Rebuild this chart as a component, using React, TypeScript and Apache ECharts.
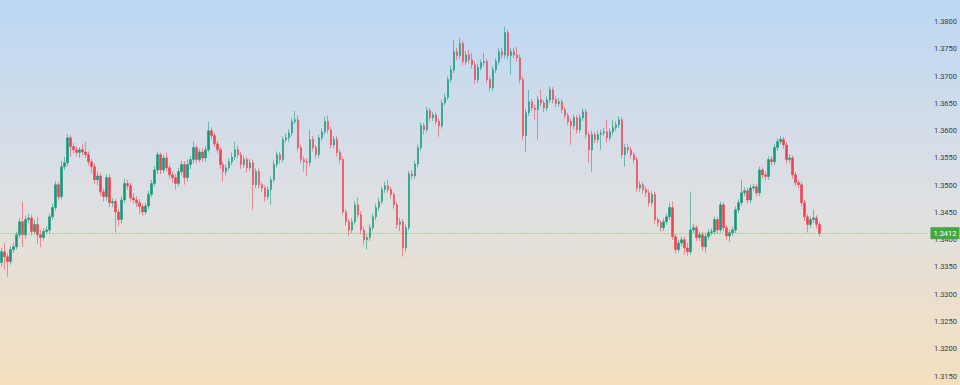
import React, { useEffect, useRef } from "react";
import * as echarts from "echarts";

const firstOpen = 1.3358;

const closes = [
  1.3378, 1.3369, 1.336, 1.3382, 1.3387, 1.3409, 1.3433, 1.3409, 1.3437, 1.344,
  1.3415, 1.3428, 1.3409, 1.3404, 1.3415, 1.3418, 1.3442, 1.3459, 1.3501, 1.3479,
  1.3534, 1.3541, 1.3587, 1.3571, 1.3565, 1.356, 1.3565, 1.3561, 1.3556, 1.3543,
  1.3534, 1.351, 1.3517, 1.3488, 1.3479, 1.3514, 1.3468, 1.347, 1.3451, 1.3437,
  1.3473, 1.3503, 1.3499, 1.3477, 1.3473, 1.3468, 1.3461, 1.3451, 1.3462, 1.3483,
  1.3503, 1.3528, 1.3556, 1.3528, 1.355, 1.3532, 1.3519, 1.3514, 1.3503, 1.3525,
  1.3538, 1.3514, 1.3538, 1.3547, 1.3569, 1.3547, 1.3561, 1.355, 1.3565, 1.36,
  1.3591, 1.3576, 1.3565, 1.3538, 1.3525, 1.3532, 1.3543, 1.3552, 1.3565, 1.3556,
  1.3538, 1.3547, 1.3532, 1.3541, 1.3501, 1.3525, 1.3501, 1.3495, 1.3479, 1.3492,
  1.351, 1.3538, 1.3556, 1.3547, 1.3584, 1.3587, 1.3596, 1.3617, 1.362, 1.3569,
  1.3547, 1.3543, 1.3541, 1.3584, 1.3569, 1.3556, 1.3587, 1.3598, 1.3617, 1.3602,
  1.3574, 1.3584, 1.356, 1.3547, 1.3451, 1.3433, 1.3418, 1.3433, 1.3464, 1.3446,
  1.3418, 1.34, 1.3404, 1.3422, 1.3442, 1.3459, 1.347, 1.3492, 1.3499, 1.3492,
  1.3483, 1.3464, 1.3428, 1.3433, 1.3385, 1.3422, 1.3521, 1.3517, 1.3539, 1.3569,
  1.3609, 1.3602, 1.3637, 1.3624, 1.3629, 1.3617, 1.3609, 1.3651, 1.3661, 1.3694,
  1.3712, 1.3745, 1.3738, 1.376, 1.3727, 1.3739, 1.373, 1.3721, 1.3694, 1.3716,
  1.3725, 1.3727, 1.3694, 1.3679, 1.3712, 1.3727, 1.3745, 1.3739, 1.378, 1.3738,
  1.3745, 1.3739, 1.3734, 1.3694, 1.3591, 1.3633, 1.3653, 1.3642, 1.3639, 1.3657,
  1.3651, 1.3642, 1.3657, 1.3675, 1.3657, 1.365, 1.3653, 1.3639, 1.3628, 1.3617,
  1.3609, 1.3624, 1.3602, 1.3624, 1.3635, 1.3593, 1.3565, 1.3593, 1.3584, 1.3593,
  1.3596, 1.3598, 1.3587, 1.3598, 1.3606, 1.3611, 1.362, 1.3556, 1.3569, 1.3565,
  1.3556, 1.3547, 1.3495, 1.3501, 1.3492, 1.3486, 1.3468, 1.3483, 1.3437, 1.3431,
  1.3422, 1.3433, 1.3442, 1.3459, 1.3406, 1.3382, 1.3394, 1.34, 1.3385, 1.3378,
  1.3418, 1.3422, 1.3404, 1.3409, 1.3387, 1.3406, 1.3413, 1.3415, 1.3437, 1.3418,
  1.3464, 1.3422, 1.3407, 1.3413, 1.3418, 1.3455, 1.3468, 1.3486, 1.349, 1.3473,
  1.3495, 1.3497, 1.3486, 1.3528, 1.3519, 1.3516, 1.3547, 1.3543, 1.3569, 1.358,
  1.3584, 1.3574, 1.3547, 1.355, 1.3519, 1.3505, 1.3501, 1.3468, 1.3442, 1.3428,
  1.3437, 1.344, 1.3428, 1.3412,
];

const highs = [
  1.3385, 1.3394, 1.3375, 1.3388, 1.3395, 1.3415, 1.344, 1.347, 1.3444, 1.3448,
  1.3446, 1.3436, 1.3442, 1.3418, 1.3421, 1.3425, 1.3448, 1.3466, 1.3508, 1.3506,
  1.3545, 1.3552, 1.3594, 1.3592, 1.3578, 1.3572, 1.357, 1.3576, 1.358, 1.3562,
  1.3548, 1.354, 1.3525, 1.3522, 1.3494, 1.352, 1.352, 1.3476, 1.3475, 1.3456,
  1.348, 1.3512, 1.351, 1.3505, 1.3485, 1.348, 1.3475, 1.3466, 1.3468, 1.349,
  1.351, 1.3535, 1.3562, 1.356, 1.3556, 1.356, 1.3538, 1.3525, 1.352, 1.3532,
  1.3545, 1.3544, 1.3547, 1.3553, 1.358, 1.3574, 1.3567, 1.3568, 1.3572, 1.3617,
  1.3606, 1.3596, 1.3582, 1.357, 1.3543, 1.3538, 1.355, 1.356, 1.358, 1.3572,
  1.3561, 1.3554, 1.3552, 1.3548, 1.3546, 1.3531, 1.353, 1.3506, 1.35, 1.3498,
  1.3516, 1.3545, 1.3562, 1.3561, 1.359, 1.3595, 1.3603, 1.3624, 1.3636, 1.3628,
  1.3574, 1.3553, 1.355, 1.3602, 1.359, 1.3574, 1.3593, 1.3605, 1.3626, 1.3628,
  1.3607, 1.359, 1.359, 1.3565, 1.3552, 1.3456, 1.3438, 1.344, 1.3471, 1.3478,
  1.3452, 1.3424, 1.341, 1.3428, 1.3448, 1.3466, 1.3477, 1.3498, 1.3506, 1.351,
  1.3497, 1.3488, 1.3469, 1.344, 1.3438, 1.3428, 1.3526, 1.3528, 1.3545, 1.3575,
  1.3615, 1.3614, 1.3644, 1.3642, 1.3635, 1.3634, 1.3622, 1.3657, 1.3668, 1.37,
  1.3719, 1.3767, 1.3752, 1.377, 1.3765, 1.3746, 1.3748, 1.3743, 1.3727, 1.3722,
  1.3731, 1.3743, 1.3732, 1.3699, 1.3718, 1.3733, 1.3751, 1.3752, 1.3791, 1.3786,
  1.3751, 1.3752, 1.3754, 1.374, 1.3699, 1.364, 1.3675, 1.3658, 1.3648, 1.3664,
  1.3675, 1.3656, 1.3663, 1.3681, 1.368, 1.3663, 1.366, 1.3658, 1.3644, 1.3633,
  1.3622, 1.363, 1.3629, 1.363, 1.3641, 1.364, 1.3598, 1.36, 1.3598, 1.36,
  1.3602, 1.3605, 1.362, 1.3604, 1.362, 1.3617, 1.3627, 1.3625, 1.3575, 1.3576,
  1.3571, 1.3561, 1.3552, 1.3508, 1.3506, 1.3498, 1.3492, 1.3489, 1.3488, 1.3442,
  1.3436, 1.3439, 1.3448, 1.3468, 1.347, 1.3411, 1.34, 1.3406, 1.3405, 1.3395,
  1.3488, 1.3429, 1.3427, 1.3415, 1.3414, 1.3412, 1.3419, 1.3421, 1.3443, 1.3442,
  1.347, 1.3469, 1.3427, 1.3419, 1.3424, 1.3461, 1.3474, 1.351, 1.3496, 1.3495,
  1.3501, 1.3503, 1.3502, 1.3534, 1.3533, 1.3525, 1.3553, 1.3553, 1.3575, 1.3586,
  1.3591, 1.3589, 1.3579, 1.3557, 1.3555, 1.3524, 1.351, 1.3506, 1.3473, 1.3447,
  1.3443, 1.3455, 1.3445, 1.3433,
];

const lows = [
  1.335, 1.3345, 1.3332, 1.3354, 1.3376, 1.3382, 1.3403, 1.3387, 1.3402, 1.343,
  1.3408, 1.341, 1.3392, 1.3386, 1.3398, 1.341, 1.3412, 1.3437, 1.3453, 1.3472,
  1.3474, 1.3528, 1.3535, 1.3552, 1.3558, 1.3553, 1.355, 1.3555, 1.355, 1.3536,
  1.3522, 1.3503, 1.35, 1.348, 1.347, 1.3472, 1.346, 1.346, 1.3413, 1.3425,
  1.343, 1.3468, 1.3492, 1.347, 1.3466, 1.346, 1.3447, 1.3444, 1.3446, 1.3456,
  1.3478, 1.3498, 1.352, 1.352, 1.3522, 1.3525, 1.3512, 1.3505, 1.3492, 1.3498,
  1.3518, 1.3501, 1.3507, 1.353, 1.354, 1.354, 1.3542, 1.3544, 1.3543, 1.356,
  1.3584, 1.357, 1.3558, 1.353, 1.3506, 1.3518, 1.3527, 1.3537, 1.3546, 1.3549,
  1.353, 1.3532, 1.3523, 1.3526, 1.3455, 1.3495, 1.3494, 1.3487, 1.347, 1.3473,
  1.3464, 1.3505, 1.3532, 1.354, 1.3542, 1.3578, 1.358, 1.359, 1.3612, 1.3562,
  1.354, 1.3525, 1.3516, 1.3535, 1.3562, 1.3549, 1.355, 1.3581, 1.3592, 1.3595,
  1.3567, 1.3568, 1.3553, 1.354, 1.3446, 1.3426, 1.3407, 1.3412, 1.3428, 1.344,
  1.341, 1.3391, 1.3382, 1.3398, 1.3416, 1.3436, 1.3453, 1.3465, 1.3486, 1.3486,
  1.3476, 1.3457, 1.342, 1.3416, 1.3369, 1.3378, 1.3417, 1.351, 1.3512, 1.3533,
  1.3563, 1.3593, 1.3597, 1.3617, 1.3618, 1.3611, 1.3589, 1.3604, 1.3646, 1.3656,
  1.3688, 1.3706, 1.373, 1.3732, 1.372, 1.3721, 1.3723, 1.3714, 1.3686, 1.3688,
  1.371, 1.3719, 1.3687, 1.3672, 1.3673, 1.3706, 1.3721, 1.3732, 1.3733, 1.3731,
  1.3703, 1.3733, 1.3727, 1.3687, 1.3583, 1.3561, 1.3627, 1.3636, 1.362, 1.3584,
  1.3645, 1.3634, 1.3636, 1.3651, 1.365, 1.3643, 1.3644, 1.3632, 1.3621, 1.361,
  1.3574, 1.3603, 1.3595, 1.3596, 1.3618, 1.3586, 1.3541, 1.3525, 1.3577, 1.3578,
  1.3565, 1.359, 1.3578, 1.3581, 1.3592, 1.36, 1.3605, 1.3549, 1.3534, 1.3558,
  1.3549, 1.354, 1.3488, 1.3488, 1.3485, 1.3479, 1.3461, 1.3462, 1.343, 1.3424,
  1.3415, 1.3416, 1.3427, 1.3436, 1.34, 1.3375, 1.3377, 1.3388, 1.3373, 1.337,
  1.3372, 1.3412, 1.3397, 1.3398, 1.338, 1.3376, 1.34, 1.3408, 1.341, 1.3411,
  1.3412, 1.3415, 1.34, 1.3396, 1.3407, 1.3412, 1.3449, 1.3462, 1.348, 1.3466,
  1.3467, 1.3489, 1.3479, 1.348, 1.3512, 1.3509, 1.351, 1.3536, 1.3537, 1.3563,
  1.3575, 1.3567, 1.354, 1.3541, 1.3512, 1.3498, 1.3494, 1.3461, 1.3435, 1.3413,
  1.3422, 1.3431, 1.3421, 1.3406,
];

const lastPrice = 1.3412;
const emptySlots = 36;
const yTickMin = 1.315;
const yTickMax = 1.38;
const yTickStep = 0.005;

export default function App() {
  const ref = useRef<HTMLDivElement>(null);

  useEffect(() => {
    if (!ref.current) return;
    const chart = echarts.init(ref.current, undefined, { renderer: "svg" });

    const categories: string[] = [];
    const candles: (number[] | string)[] = [];
    for (let i = 0; i < closes.length; i++) {
      const open = i === 0 ? firstOpen : closes[i - 1];
      categories.push(String(i));
      candles.push([open, closes[i], lows[i], highs[i]]);
    }
    for (let j = 0; j < emptySlots; j++) {
      categories.push(String(closes.length + j));
      candles.push("-");
    }
    const lastCat = categories[categories.length - 1];

    chart.setOption({
      animation: false,
      backgroundColor: "transparent",
      grid: { left: 0, right: 30, top: 21.7, bottom: 9, containLabel: false },
      xAxis: {
        type: "category",
        data: categories,
        show: false,
        boundaryGap: true,
      },
      yAxis: {
        type: "value",
        position: "right",
        min: yTickMin,
        max: yTickMax,
        interval: yTickStep,
        axisLine: { show: false },
        axisTick: { show: false },
        splitLine: { show: false },
        axisLabel: {
          show: true,
          margin: 5,
          fontSize: 7.5,
          color: "#3a3e45",
          fontFamily: "Roboto, 'Liberation Sans', sans-serif",
          formatter: (v: number) => v.toFixed(4),
        },
      },
      series: [
        {
          type: "candlestick",
          data: candles,
          barWidth: 2,
          clip: false,
          itemStyle: {
            color: "#11997c",
            color0: "#f0404f",
            borderColor: "rgba(17,153,124,0.55)",
            borderColor0: "rgba(240,64,79,0.55)",
            borderWidth: 1,
          },
          markLine: {
            silent: true,
            symbol: "none",
            animation: false,
            data: [
              [
                { coord: [categories[0], lastPrice] },
                { coord: [lastCat, lastPrice] },
              ],
            ],
            lineStyle: {
              type: [1, 2],
              color: "rgba(88,190,80,0.9)",
              width: 1,
            },
            label: {
              show: true,
              position: "end",
              distance: 3,
              formatter: lastPrice.toFixed(4),
              backgroundColor: "#43a83f",
              color: "#ffffff",
              fontSize: 7.5,
              fontFamily: "Roboto, 'Liberation Sans', sans-serif",
              padding: [2, 3, 2, 3],
            },
          },
        },
      ],
    });

    return () => chart.dispose();
  }, []);

  return (
    <div
      style={{
        position: "absolute",
        left: 0,
        top: 0,
        width: 960,
        height: 385,
        background:
          "linear-gradient(to bottom, #bcd8f4 0%, #d4dde8 35%, #dfe0e1 55%, #ebdfcd 78%, #f4dfbf 100%)",
      }}
    >
      <div ref={ref} style={{ width: 960, height: 385 }} />
    </div>
  );
}
